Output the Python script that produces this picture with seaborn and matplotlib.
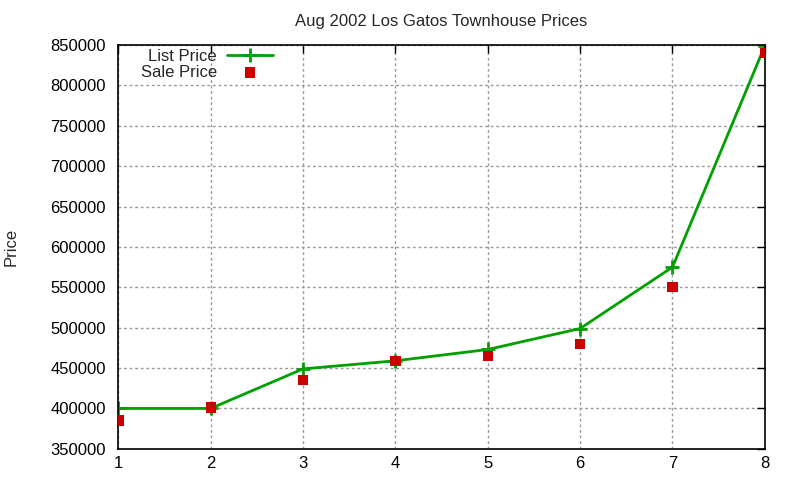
import matplotlib
matplotlib.use("Agg")
import matplotlib.pyplot as plt
import seaborn as sns
import pandas as pd

houses = [1, 2, 3, 4, 5, 6, 7, 8]
list_price = [400000, 400000, 449000, 459000, 473000, 499000, 575000, 849000]
sale_price = [385000, 401000, 435000, 459000, 465000, 480000, 550000, 840000]
yticks = [350000, 400000, 450000, 500000, 550000, 600000, 650000, 700000, 750000, 800000, 850000]

df = pd.DataFrame({"house": houses, "list": list_price, "sale": sale_price})

sns.set_style("white")
plt.rcParams['font.family'] = ['Liberation Sans', 'DejaVu Sans']

fig = plt.figure(figsize=(8, 4.8), dpi=100)
ax = fig.add_axes([0.148, 0.065, 0.808, 0.841])

sns.lineplot(data=df, x="house", y="list", ax=ax, color="#00a000", linewidth=2,
             marker="+", markersize=10, markeredgewidth=2, markeredgecolor="#00a000",
             label="List Price")
sns.scatterplot(data=df, x="house", y="sale", ax=ax, color="#cc0000", marker="s",
                s=55, edgecolor="none", label="Sale Price", zorder=3)

ax.set_xlim(1, 8)
ax.set_ylim(350000, 850000)
ax.set_xticks(houses)
ax.set_yticks(yticks)
ax.set_xticklabels([str(h) for h in houses])
ax.set_yticklabels([str(t) for t in yticks])
ax.tick_params(direction="in", top=True, right=True, length=6, width=1, labelsize=12, colors="black")
ax.tick_params(axis="y", pad=9)
ax.tick_params(axis="x", pad=5)
ax.grid(True, color="#999999", linestyle=(0, (2, 2)), linewidth=1)
for s in ax.spines.values():
    s.set_color("black")
    s.set_linewidth(1.2)
ax.set_xlabel("")
ax.set_ylabel("Price", fontsize=12)
ax.yaxis.set_label_coords(-0.155, 0.5)
ax.set_title("Aug 2002 Los Gatos Townhouse Prices", fontsize=12, pad=14)

leg = ax.legend(loc="upper left", bbox_to_anchor=(0.019, 1.015), frameon=False, markerfirst=False,
                fontsize=12, handlelength=2.8, labelspacing=0.05, borderaxespad=0.2,
                handletextpad=0.6)
for t in leg.get_texts():
    t.set_ha("right")
leg._legend_box.align = "right"

fig.savefig("out.png", dpi=100)
